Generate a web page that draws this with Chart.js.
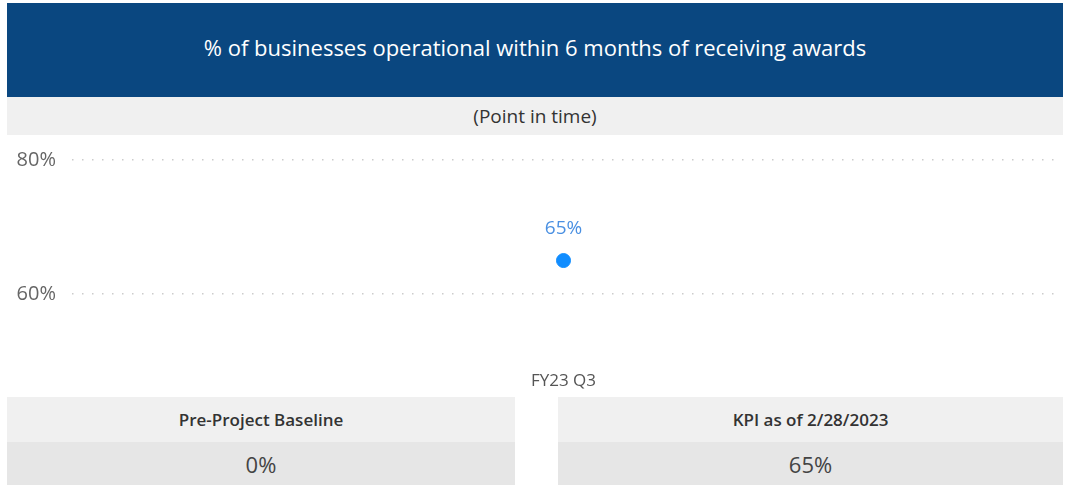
<!DOCTYPE html>
<html>
<head>
<meta charset="utf-8">
<script src="https://cdn.jsdelivr.net/npm/chart.js@4/dist/chart.umd.min.js"></script>
<style>
  html, body { margin: 0; padding: 0; background: #fff; }
  body { width: 1071px; height: 485px; position: relative; overflow: hidden; font-family: "Open Sans", "Noto Sans", sans-serif; }
  .title {
    position: absolute; left: 7px; top: 3px; width: 1056px; height: 94px;
    background: #0a4780; color: #fff; font-size: 22px;
    display: flex; align-items: center; justify-content: center;
    padding-bottom: 6px; box-sizing: border-box;
  }
  .sub {
    position: absolute; left: 7px; top: 97px; width: 1056px; height: 38px;
    background: #f0f0f0; color: #333; font-size: 19px;
    display: flex; align-items: center; justify-content: center;
  }
  .chart { position: absolute; left: 7px; top: 140px; width: 1056px; height: 255px; }
  .card { position: absolute; top: 397px; height: 88px; }
  .card .hd {
    height: 45px; background: #f0f0f0; color: #333; font-weight: 600; font-size: 17px;
    display: flex; align-items: center; justify-content: center;
  }
  .card .val {
    height: 43px; background: #e6e6e6; color: #444; font-size: 22px;
    display: flex; align-items: center; justify-content: center;
  }
</style>
</head>
<body>
<div class="title">% of businesses operational within 6 months of receiving awards</div>
<div class="sub">(Point in time)</div>
<div class="chart"><canvas id="kpiChart"></canvas></div>
<div class="card" style="left:7px;width:508px;">
  <div class="hd">Pre-Project Baseline</div>
  <div class="val" id="baselineVal"></div>
</div>
<div class="card" style="left:558px;width:505px;">
  <div class="hd">KPI as of 2/28/2023</div>
  <div class="val" id="kpiVal"></div>
</div>
<script>
// data
const categories = ['FY23 Q3'];
const kpiValues = [65];
const yTicks = [60, 80];
const baseline = 0;
const kpiLatest = 65;

document.getElementById('baselineVal').textContent = baseline + '%';
document.getElementById('kpiVal').textContent = kpiLatest + '%';

// value label above each point
const pointLabels = {
    id: 'pointLabels',
    afterDatasetsDraw(chart) {
        const ctx = chart.ctx;
        const meta = chart.getDatasetMeta(0);
        ctx.save();
        ctx.fillStyle = '#4a90e2';
        ctx.font = '19px "Open Sans", sans-serif';
        ctx.textAlign = 'center';
        ctx.textBaseline = 'bottom';
        meta.data.forEach((pt, i) => {
            ctx.fillText(kpiValues[i] + '%', pt.x, pt.y - 22);
        });
        ctx.restore();
    },
};

new Chart(document.getElementById('kpiChart'), {
    type: 'line',
    data: {
        labels: categories,
        datasets: [{
            data: kpiValues,
            borderColor: '#118dff',
            backgroundColor: '#118dff',
            pointRadius: 7,
            pointHoverRadius: 7,
            showLine: false,
        }],
    },
    options: {
        responsive: true,
        maintainAspectRatio: false,
        animation: false,
        layout: { autoPadding: false, padding: { top: 0, right: 8, left: 0, bottom: 0 } },
        plugins: { legend: { display: false }, tooltip: { enabled: false } },
        scales: {
            x: {
                offset: true,
                grid: { display: false },
                border: { display: false },
                ticks: { color: '#555', font: { size: 17, family: '"Open Sans", sans-serif' }, padding: 2 },
                afterFit(scale) { scale.height = 34; },
            },
            y: {
                min: 50,
                max: 83,
                afterBuildTicks(scale) { scale.ticks = yTicks.map(v => ({ value: v })); },
                grid: { color: '#cccccc', lineWidth: 1.5, drawTicks: false },
                border: { display: false, dash: [1.5, 8.5] },
                ticks: {
                    color: '#666',
                    padding: 16,
                    font: { size: 20, family: '"Open Sans", sans-serif' },
                    callback: v => v + '%',
                },
                afterFit(scale) {
                    scale.width = 65;
                    scale.paddingTop = 0;
                    scale.paddingBottom = 0;
                },
            },
        },
    },
    plugins: [pointLabels],
});
</script>
</body>
</html>
